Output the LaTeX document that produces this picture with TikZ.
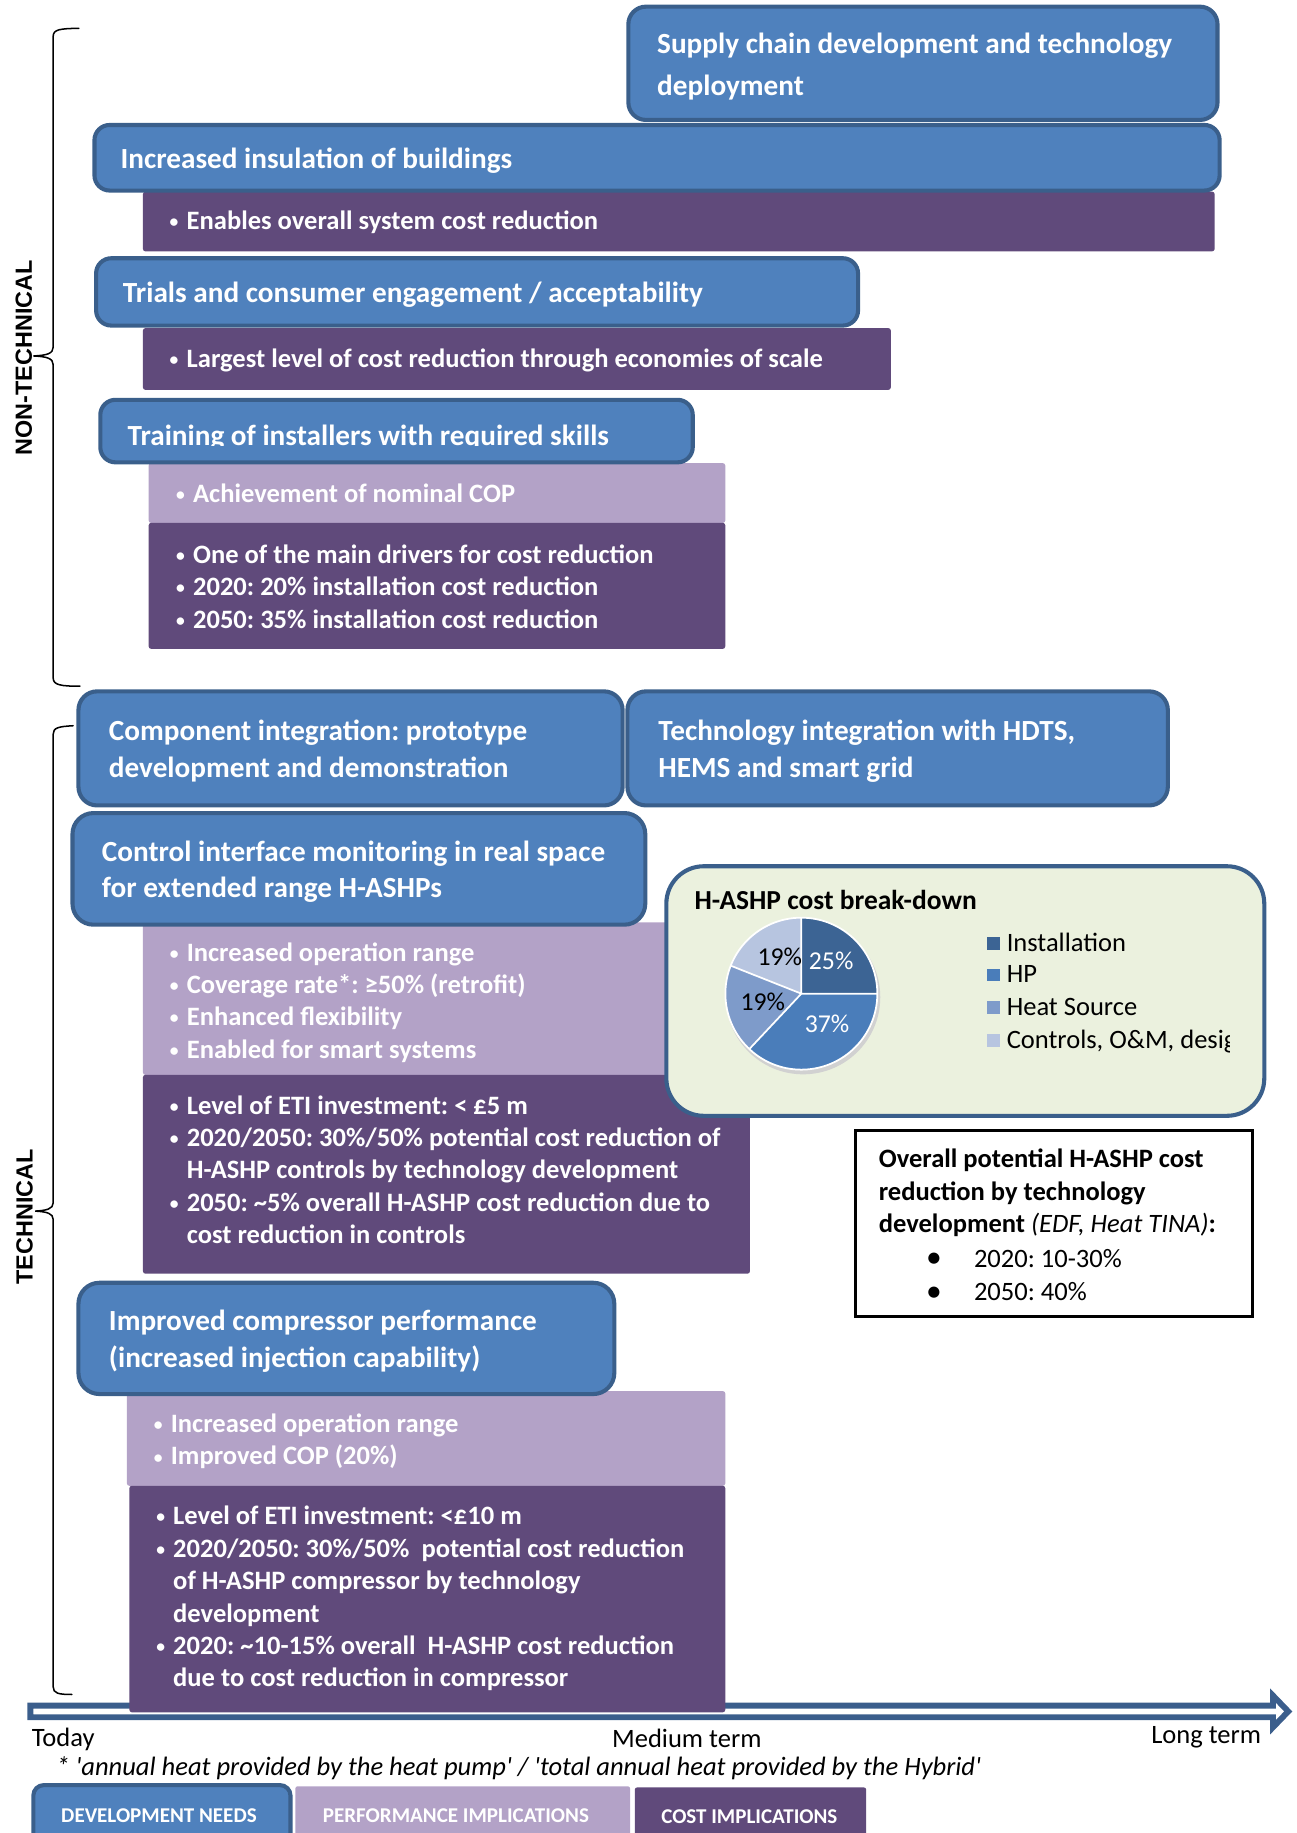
\documentclass[tikz,border=0pt]{standalone}
\usepackage{fontspec}
\setmainfont{Carlito}
\newfontfamily\lblfont{Liberation Sans}
\usetikzlibrary{fit}
\definecolor{devblue}{HTML}{4F81BD}
\definecolor{devedge}{HTML}{3A5F8B}
\definecolor{costpurple}{HTML}{604A7B}
\definecolor{perfpurple}{HTML}{B3A2C7}
\definecolor{greenbg}{HTML}{EBF1DE}
\definecolor{arrowblue}{HTML}{3B5E8C}
\definecolor{pieA}{HTML}{3C6494}
\definecolor{pieB}{HTML}{4A7DBA}
\definecolor{pieC}{HTML}{7E9BCA}
\definecolor{pieD}{HTML}{B7C5E0}
\newcommand\bul{\makebox[16pt][l]{\hspace*{1.5pt}\raisebox{1.6pt}{\fontsize{15}{15}\selectfont •}}}
\newcommand\ind{\hspace*{16pt}}
\newcommand\bigbul{\makebox[41pt][l]{\raisebox{-0.5pt}{\fontsize{27}{27}\selectfont •}}}
\frenchspacing
\begin{document}
\frenchspacing
\begin{tikzpicture}[x=1pt,y=-1pt,
 devbox/.style={draw=devedge, fill=devblue, line width=3.5pt, rounded corners=13pt, inner sep=0pt},
 costbox/.style={fill=costpurple, rounded corners=2pt, inner sep=0pt},
 perfbox/.style={fill=perfpurple, rounded corners=2pt, inner sep=0pt},
 htxt/.style={anchor=north west, inner sep=0pt, text=white, align=left, font=\fontsize{25}{31}\selectfont\bfseries\frenchspacing},
 btxt/.style={anchor=north west, inner sep=0pt, text=white, align=left, font=\fontsize{22.7}{27.7}\selectfont\bfseries\frenchspacing},
 bracestyle/.style={line width=1.3pt, black, line cap=round},
 sidelbl/.style={rotate=90, font=\lblfont\fontsize{20}{24}\selectfont\bfseries, inner sep=0pt},
 plain/.style={inner sep=0pt, font=\fontsize{22.7}{27.7}\selectfont\frenchspacing},
 pielbl/.style={inner sep=0pt, font=\fontsize{22}{26}\selectfont},
 legtxt/.style={inner sep=0pt, text=white, font=\fontsize{18}{22}\selectfont\bfseries},
]
\useasboundingbox (0,0) rectangle (1109,1568);

% ---- braces and side labels
\draw[bracestyle] (67.4,24.2) .. controls (52,24.5) and (45.5,25) .. (45.5,31)
  -- (45.5,297) .. controls (45.5,302.5) and (40,304) .. (28.5,304.5)
  .. controls (40,305) and (45.5,306.5) .. (45.5,312)
  -- (45.5,580) .. controls (45.5,586) and (52,587) .. (68.4,587);
\node[sidelbl] (nontech) at (20.4,306) {NON-TECHNICAL};
\draw[bracestyle] (62.6,620.8) .. controls (50,621.5) and (45.5,622.5) .. (45.5,628)
  -- (45.5,1029) .. controls (45.5,1034) and (40,1035.5) .. (30,1036)
  .. controls (40,1036.5) and (45.5,1038) .. (45.5,1043)
  -- (45.5,1443) .. controls (45.5,1448.5) and (50,1449.5) .. (61.5,1449.5);
\node[sidelbl] (tech) at (21,1041) {TECHNICAL};

% ---- timeline arrow
\draw[draw=arrowblue, fill=white, line width=5pt, line join=miter]
  (26,1459) -- (1089,1459) -- (1089,1450.5) -- (1102,1464) -- (1089,1477.5)
  -- (1089,1469) -- (26,1469) -- cycle;

% ---- performance / cost boxes
\node[costbox, fit={(122.3,164) (1039,215)}] (c1) {};
\node[costbox, fit={(122.3,280.7) (762,333.5)}] (c2) {};
\node[perfbox, fit={(127.2,396.2) (620.4,447.3)}] (p3) {};
\node[costbox, fit={(127.2,447.3) (620.4,555)}] (c3) {};
\node[perfbox, fit={(122.3,789) (641.5,919.5)}] (p4) {};
\node[costbox, fit={(122.3,919.5) (641.5,1089.5)}] (c4) {};
\node[perfbox, fit={(108.6,1190) (620.4,1271)}] (p5) {};
\node[costbox, fit={(110.7,1271) (620.4,1464.7)}] (c5) {};

% ---- development needs boxes
\node[devbox, rounded corners=15pt, fit={(537.5,5.7) (1041.5,102.6)}] (supply) {};
\node[devbox, fit={(80.8,106.9) (1043.3,163)}] (insul) {};
\node[devbox, fit={(82.2,220.9) (734,278.5)}] (trials) {};
\node[devbox, fit={(85.8,342) (592.6,395.5)}] (train) {};
\node[devbox, rounded corners=16pt, fit={(67.1,591.4) (532.6,689)}] (compint) {};
\node[devbox, rounded corners=16pt, fit={(536.7,591.4) (999,689)}] (techint) {};
\node[devbox, rounded corners=18pt, fit={(62,695.5) (552,791)}] (ctrl) {};
\node[devbox, rounded corners=18pt, fit={(67.1,1097.3) (525.5,1192.5)}] (compr) {};

% ---- box texts
\node[htxt, font=\fontsize{25}{35.6}\selectfont\bfseries] (supply-t) at (562,20.7)
  {\strut Supply chain development and technology\\deployment};
\node[htxt] (insul-t) at (103,122.2) {\strut Increased insulation of buildings};
\node[btxt] (c1-t) at (143.5,176.5) {\strut\bul Enables overall system cost reduction};
\node[htxt] (trials-t) at (105,236.8) {\strut Trials and consumer engagement / acceptability};
\node[btxt] (c2-t) at (143.5,294.5) {\strut\bul Largest level of cost reduction through economies of scale};
\begin{scope}
\clip (85,340) rectangle (595,381.5);
\node[htxt] (train-t) at (109,358.8) {\strut Training of installers with required skills};
\end{scope}
\node[btxt] (p3-t) at (149,410) {\strut\bul Achievement of nominal COP};
\node[btxt] (c3-t) at (149,462.3) {\strut\bul One of the main drivers for cost reduction\\
  \bul 2020: 20\% installation cost reduction\\
  \bul 2050: 35\% installation cost reduction};

\node[htxt] (compint-t) at (93,611.8) {\strut Component integration: prototype\\development and demonstration};
\node[htxt] (techint-t) at (563,611.8) {\strut Technology integration with HDTS,\\HEMS and smart grid};
\node[htxt] (ctrl-t) at (87,714.8) {\strut Control interface monitoring in real space\\for extended range H-ASHPs};
\node[btxt] (p4-t) at (143.6,802.5) {\strut\bul Increased operation range\\
  \bul Coverage rate*: ≥50\% (retrofit)\\
  \bul Enhanced flexibility\\
  \bul Enabled for smart systems};
\node[btxt] (c4-t) at (143.6,933.5) {\strut\bul Level of ETI investment: < £5 m\\
  \bul 2020/2050: 30\%/50\% potential cost reduction of\\
  \ind H-ASHP controls by technology development\\
  \bul 2050: \textasciitilde5\% overall H-ASHP cost reduction due to\\
  \ind cost reduction in controls};
\node[htxt] (compr-t) at (93,1116.5) {\strut Improved compressor performance\\(increased injection capability)};
\node[btxt] (p5-t) at (130,1205.8) {\strut\bul Increased operation range\\
  \bul Improved COP (20\%)};
\node[btxt] (c5-t) at (132,1284.8) {\strut\bul Level of ETI investment: <£10 m\\
  \bul 2020/2050: 30\%/50\%\ \ potential cost reduction\\
  \ind of H-ASHP compressor by technology\\
  \ind development\\
  \bul 2020: \textasciitilde10-15\% overall\ \ H-ASHP cost reduction\\
  \ind due to cost reduction in compressor};

% ---- H-ASHP cost break-down
\node[fit={(570,741) (1081.5,954.5)}, draw=devedge, fill=greenbg, line width=3.5pt,
  rounded corners=32pt, inner sep=0pt] (hashp) {};
\node[inner sep=0pt, anchor=base west, font=\fontsize{23.5}{28}\selectfont\bfseries] (hashp-t)
  at (594,778) {H-ASHP cost break-down};
\begin{scope}[shift={(685.5,850)}]
 \fill[black!18] (1.5,3) circle[radius=66];
 \fill[pieA] (0,0) -- (-90:65) arc[start angle=-90, end angle=0, radius=65] -- cycle;
 \fill[pieB] (0,0) -- (0:65) arc[start angle=0, end angle=133.2, radius=65] -- cycle;
 \fill[pieC] (0,0) -- (133.2:65) arc[start angle=133.2, end angle=201.6, radius=65] -- cycle;
 \fill[pieD] (0,0) -- (201.6:65) arc[start angle=201.6, end angle=270, radius=65] -- cycle;
 \draw[white, line width=1.5pt] (0,0) -- (-90:65) (0,0) -- (0:65) (0,0) -- (133.2:65) (0,0) -- (201.6:65);
 \draw[white, line width=1.5pt] (0,0) circle[radius=65];
\end{scope}
\node[pielbl, text=white] (p25) at (711,821.5) {25\%};
\node[pielbl, text=white] (p37) at (707.5,875.6) {37\%};
\node[pielbl] (p19a) at (652.5,857.3) {19\%};
\node[pielbl] (p19b) at (667,818.5) {19\%};
\fill[pieA] (844.4,801.6) rectangle (855,812.4);
\fill[pieB] (844.4,828.6) rectangle (855,839.4);
\fill[pieC] (844.4,856.6) rectangle (855,867.4);
\fill[pieD] (844.4,884.6) rectangle (855,895.4);
\node[plain, anchor=base west] (lg1) at (861,813.7) {Installation};
\node[plain, anchor=base west] (lg2) at (861,840.7) {HP};
\node[plain, anchor=base west] (lg3) at (861,868.7) {Heat Source};
\begin{scope}
\clip (855,870) rectangle (1051.5,905);
\node[plain, anchor=base west] (lg4) at (861,896.7) {Controls, O\&M, design};
\end{scope}

% ---- overall potential box
\node[draw=black, line width=2.8pt, fill=white, fit={(732,967) (1071.6,1126.3)}, inner sep=0pt] (ovbox) {};
\node[anchor=north west, inner sep=0pt, align=left, font=\fontsize{22.7}{27.9}\selectfont\bfseries\frenchspacing] (ovt)
  at (751.6,979.2) {\strut Overall potential H-ASHP cost\\reduction by technology\\development \textit{\mdseries (EDF, Heat TINA)}:};
\node[anchor=north west, inner sep=0pt, align=left, font=\fontsize{22.7}{28.5}\selectfont\frenchspacing] (ovb)
  at (792,1064) {\strut\bigbul 2020: 10-30\%\\\bigbul 2050: 40\%};

% ---- timeline labels and footnote
\node[plain, anchor=base west] (today) at (27,1494) {Today};
\node[plain, anchor=base] (medium) at (587.5,1494.5) {Medium term};
\node[plain, anchor=base east] (longt) at (1079,1491) {Long term};
\node[anchor=base west, inner sep=0pt, font=\fontsize{22.7}{26}\selectfont\itshape\frenchspacing] (fn) at (48,1518.5)
  {* \textquotesingle annual heat provided by the heat pump\textquotesingle{} / \textquotesingle total annual heat provided by the Hybrid\textquotesingle};

% ---- legend
\node[devbox, rounded corners=9pt, fit={(28.5,1527) (248.5,1590)}] (legdev) {};
\node[perfbox, fit={(252.6,1528) (539,1590)}] (legperf) {};
\node[costbox, fit={(543,1529) (741,1590)}] (legcost) {};
\node[legtxt, anchor=base] (legdev-t) at (136,1558.6) {DEVELOPMENT NEEDS};
\node[legtxt, anchor=base] (legperf-t) at (390,1558.6) {PERFORMANCE IMPLICATIONS};
\node[legtxt, anchor=base] (legcost-t) at (641,1560) {COST IMPLICATIONS};
\end{tikzpicture}
\end{document}
